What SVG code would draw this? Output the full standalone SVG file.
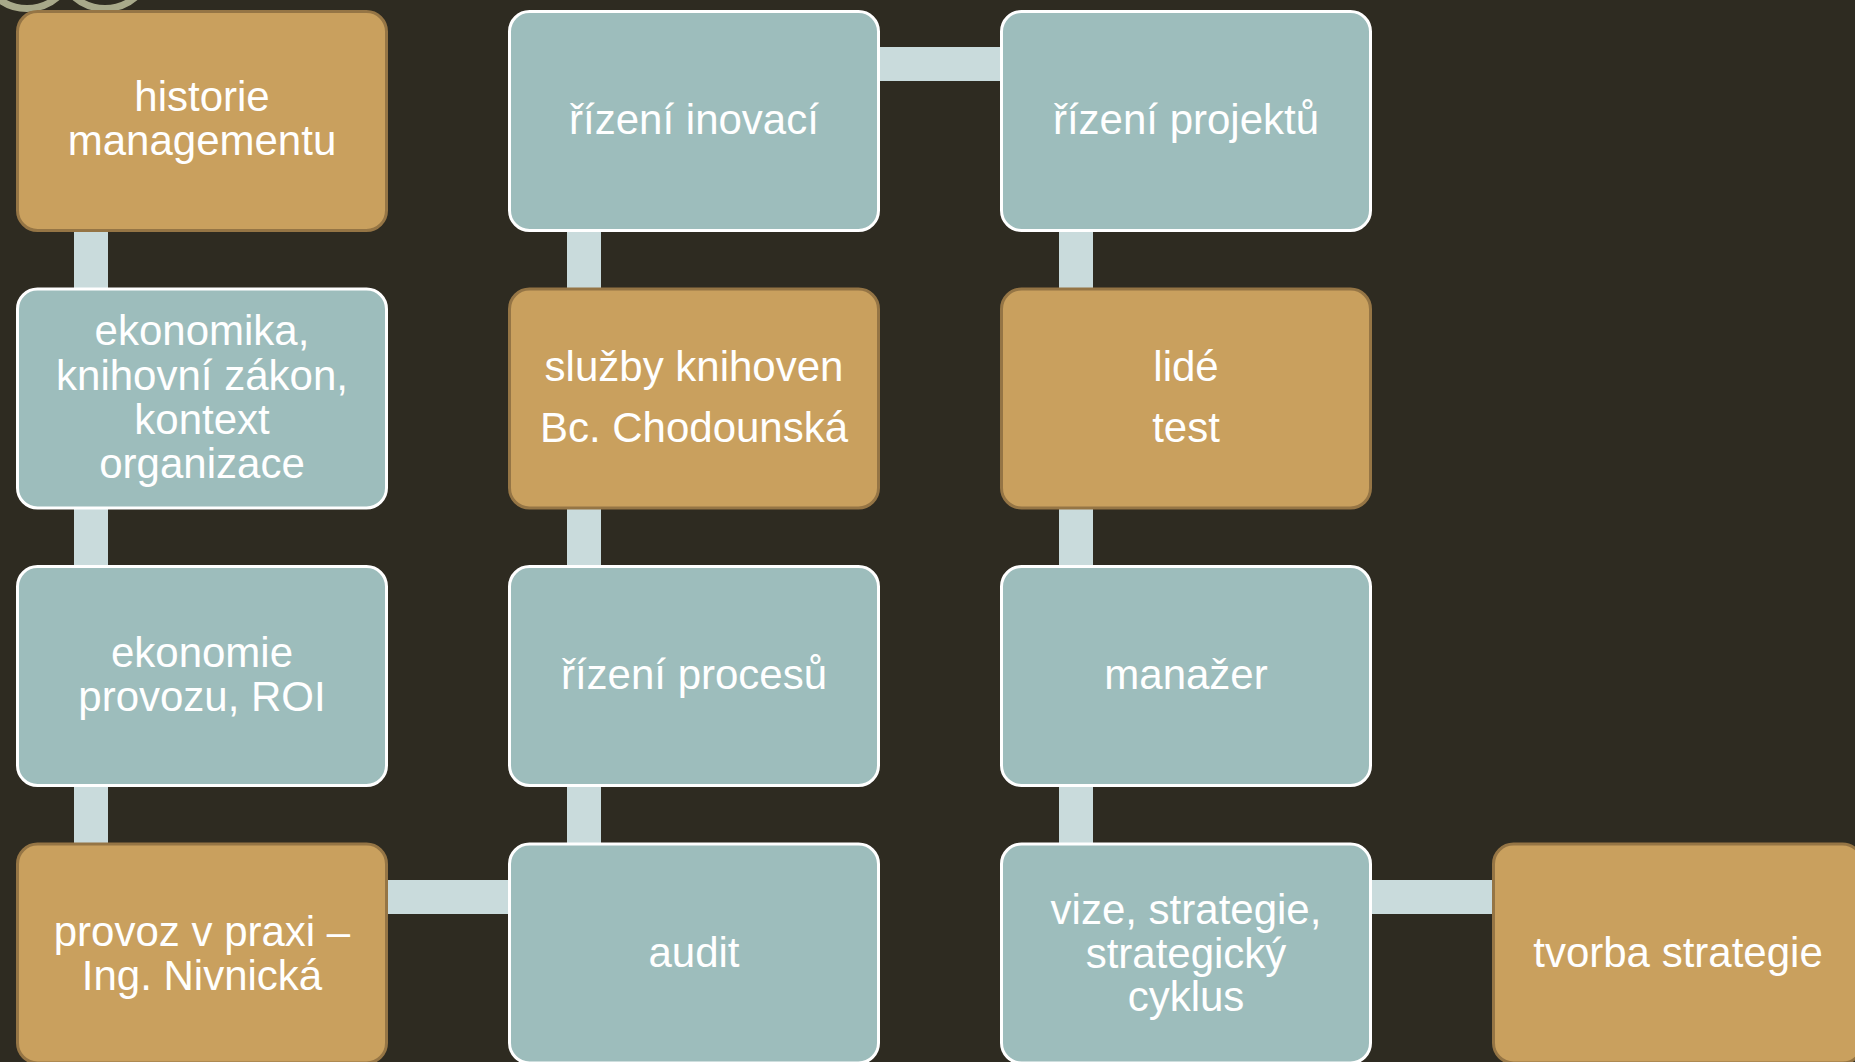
<svg xmlns="http://www.w3.org/2000/svg" width="1855" height="1062" viewBox="0 0 1855 1062">
<style>
.bg{fill:#2E2B21}
.teal{fill:#9DBDBC;stroke:#FFFFFF;stroke-width:3}
.tan{fill:#C9A05E;stroke:#957545;stroke-width:3}
.conn{fill:#C9DBDC}
.lbl{font-family:"Liberation Sans",Arial,sans-serif;font-size:42px;fill:#FFFFFF;text-anchor:middle}
.ring{fill:none;stroke:#A8A98A;stroke-width:7}
</style>
<rect class="bg" x="0" y="0" width="1855" height="1062"/>
<g id="decor">
<circle class="ring" cx="27" cy="-38" r="46.5"/>
<circle class="ring" cx="105" cy="-38" r="46.5"/>
</g>
<g id="connectors">
<rect class="conn" x="74" y="200" width="34" height="120"/>
<rect class="conn" x="74" y="480" width="34" height="120"/>
<rect class="conn" x="74" y="760" width="34" height="120"/>
<rect class="conn" x="567" y="200" width="34" height="120"/>
<rect class="conn" x="567" y="480" width="34" height="120"/>
<rect class="conn" x="567" y="760" width="34" height="120"/>
<rect class="conn" x="1059" y="200" width="34" height="120"/>
<rect class="conn" x="1059" y="480" width="34" height="120"/>
<rect class="conn" x="1059" y="760" width="34" height="120"/>
<rect class="conn" x="360" y="880" width="180" height="34"/>
<rect class="conn" x="850" y="47" width="180" height="34"/>
<rect class="conn" x="1340" y="880" width="180" height="34"/>
</g>
<g id="n1">
<rect class="tan" x="17.5" y="11.5" width="369" height="219" rx="20"/>
<text class="lbl"><tspan x="202" y="111">historie</tspan><tspan x="202" y="155">managementu</tspan></text>
</g>
<g id="n2">
<rect class="teal" x="17.5" y="289" width="369" height="219" rx="20"/>
<text class="lbl"><tspan x="202" y="345">ekonomika,</tspan><tspan x="202" y="390">knihovní zákon,</tspan><tspan x="202" y="434">kontext</tspan><tspan x="202" y="478">organizace</tspan></text>
</g>
<g id="n3">
<rect class="teal" x="17.5" y="566.5" width="369" height="219" rx="20"/>
<text class="lbl"><tspan x="202" y="667">ekonomie</tspan><tspan x="202" y="711">provozu, ROI</tspan></text>
</g>
<g id="n4">
<rect class="tan" x="17.5" y="844" width="369" height="219" rx="20"/>
<text class="lbl"><tspan x="202" y="946">provoz v praxi –</tspan><tspan x="202" y="990">Ing. Nivnická</tspan></text>
</g>
<g id="n5">
<rect class="teal" x="509.5" y="11.5" width="369" height="219" rx="20"/>
<text class="lbl" x="694" y="134">řízení inovací</text>
</g>
<g id="n6">
<rect class="tan" x="509.5" y="289" width="369" height="219" rx="20"/>
<text class="lbl"><tspan x="694" y="381">služby knihoven</tspan><tspan x="694" y="442">Bc. Chodounská</tspan></text>
</g>
<g id="n7">
<rect class="teal" x="509.5" y="566.5" width="369" height="219" rx="20"/>
<text class="lbl" x="694" y="689">řízení procesů</text>
</g>
<g id="n8">
<rect class="teal" x="509.5" y="844" width="369" height="219" rx="20"/>
<text class="lbl" x="694" y="967">audit</text>
</g>
<g id="n9">
<rect class="teal" x="1001.5" y="11.5" width="369" height="219" rx="20"/>
<text class="lbl" x="1186" y="134">řízení projektů</text>
</g>
<g id="n10">
<rect class="tan" x="1001.5" y="289" width="369" height="219" rx="20"/>
<text class="lbl"><tspan x="1186" y="381">lidé</tspan><tspan x="1186" y="442">test</tspan></text>
</g>
<g id="n11">
<rect class="teal" x="1001.5" y="566.5" width="369" height="219" rx="20"/>
<text class="lbl" x="1186" y="689">manažer</text>
</g>
<g id="n12">
<rect class="teal" x="1001.5" y="844" width="369" height="219" rx="20"/>
<text class="lbl"><tspan x="1186" y="924">vize, strategie,</tspan><tspan x="1186" y="968">strategický</tspan><tspan x="1186" y="1011">cyklus</tspan></text>
</g>
<g id="n13">
<rect class="tan" x="1493.5" y="844" width="369" height="219" rx="20"/>
<text class="lbl" x="1678" y="967">tvorba strategie</text>
</g>
</svg>
